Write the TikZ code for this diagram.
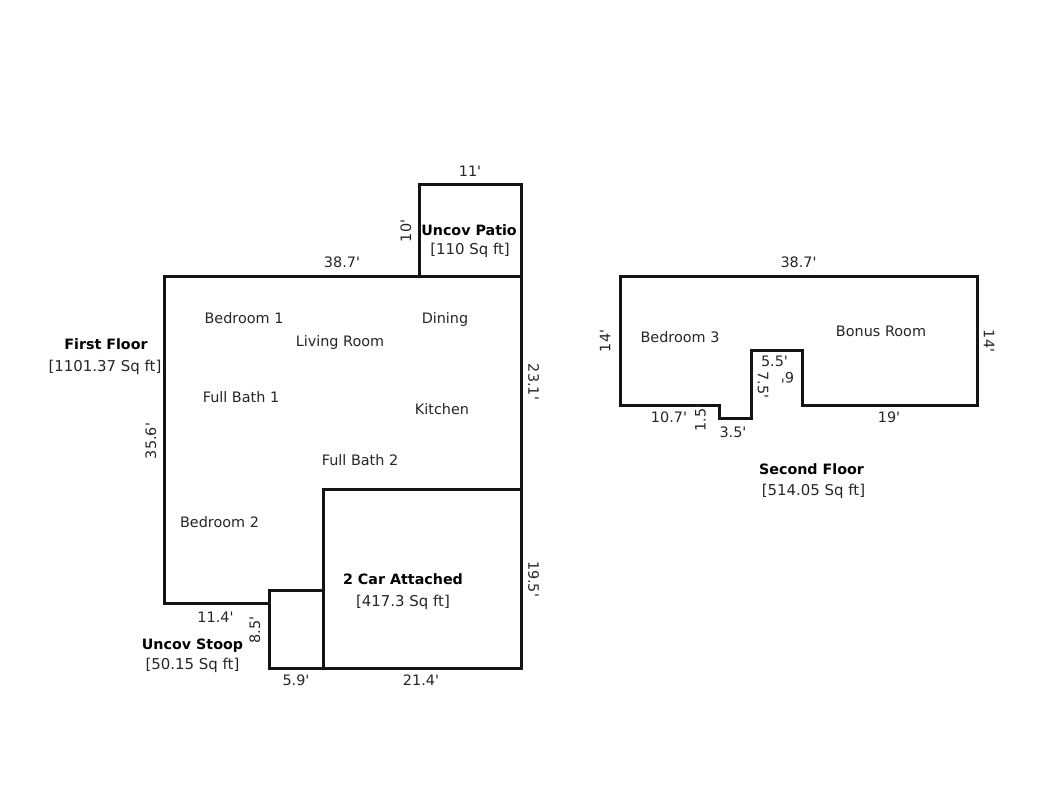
\documentclass[tikz,border=0pt]{standalone}
\usepackage{fontspec}
\setmainfont{DejaVu Sans}
\newcommand{\q}{\textquotesingle}
\tikzset{
 wall/.style={line width=2.25pt,draw=black!92,line join=miter,line cap=rect},
 lab/.style={font=\fontsize{10.8}{12}\selectfont,text=black!85,inner sep=0pt,anchor=center},
 area/.style={lab,font=\fontsize{11.2}{12}\selectfont},
 rlab/.style={lab,rotate=90},
 rrlab/.style={lab,rotate=-90},
 blab/.style={lab,text=black,font=\fontsize{10.7}{12}\selectfont\bfseries}
}
\begin{document}
\begin{tikzpicture}[x=0.75pt,y=-0.75pt]
\useasboundingbox (0,0) rectangle (1056,811);
\fill[white] (0,0) rectangle (1056,811);
\draw[wall] (164.5,276.5) -- (521.5,276.5) -- (521.5,668.5) -- (269.5,668.5) -- (269.5,603.5) -- (164.5,603.5) -- cycle;
\draw[wall] (269.5,603.5) -- (269.5,590.5) -- (323.5,590.5);
\draw[wall] (419.5,276.5) -- (419.5,184.5) -- (521.5,184.5) -- (521.5,276.5);
\draw[wall] (323.5,668.5) -- (323.5,489.5) -- (521.5,489.5);
\draw[wall] (620.5,276.5) -- (977.5,276.5) -- (977.5,405.5) -- (802.5,405.5) -- (802.5,350.5) -- (751.5,350.5) -- (751.5,418.5) -- (719.5,418.5) -- (719.5,405.5) -- (620.5,405.5) -- cycle;
\node[lab] (t1) at (470,171) {11\q};
\node[rlab] (t2) at (406,231) {10\q};
\node[blab] (t3) at (469,230) {Uncov Patio};
\node[area] (t4) at (470,250.5) {[110 Sq ft]};
\node[lab] (t5) at (342,262.5) {38.7\q};
\node[lab] (t6) at (798.5,262.5) {38.7\q};
\node[lab] (t7) at (244,318.5) {Bedroom 1};
\node[lab] (t8) at (445,319.5) {Dining};
\node[lab] (t9) at (340,342.5) {Living Room};
\node[blab] (t10) at (106,344.5) {First Floor};
\node[area] (t11) at (105,367.5) {[1101.37 Sq ft]};
\node[lab] (t12) at (241,397.5) {Full Bath 1};
\node[lab] (t13) at (442,409.5) {Kitchen};
\node[lab] (t14) at (360,460.5) {Full Bath 2};
\node[lab] (t15) at (219.5,522.5) {Bedroom 2};
\node[rlab] (t16) at (151,441) {35.6\q};
\node[rrlab] (t17) at (533.5,382) {23.1\q};
\node[rrlab] (t18) at (533.5,579) {19.5\q};
\node[blab] (t19) at (403,579.5) {2 Car Attached};
\node[area] (t20) at (403,602.5) {[417.3 Sq ft]};
\node[lab] (t21) at (215.5,617.5) {11.4\q};
\node[rlab] (t22) at (255,630) {8.5\q};
\node[blab] (t23) at (192.5,645.5) {Uncov Stoop};
\node[area] (t24) at (192.5,665.5) {[50.15 Sq ft]};
\node[lab] (t25) at (296,680.5) {5.9\q};
\node[lab] (t26) at (421,680.5) {21.4\q};
\node[rlab] (t27) at (605,341) {14\q};
\node[rrlab] (t28) at (989,341) {14\q};
\node[lab] (t29) at (680,337.5) {Bedroom 3};
\node[lab] (t30) at (881,331.5) {Bonus Room};
\node[lab] (t31) at (774.5,361.5) {5.5\q};
\node[rrlab] (t32) at (763,385) {7.5\q};
\node[lab,rotate=180] (t33) at (787.5,378) {6\q};
\node[lab] (t34) at (669,417.5) {10.7\q};
\node[rlab] (t35) at (700.5,418) {1.5\q};
\node[lab] (t36) at (733,432.5) {3.5\q};
\node[lab] (t37) at (889,417.5) {19\q};
\node[blab] (t38) at (811.5,469.5) {Second Floor};
\node[area] (t39) at (813.5,491.5) {[514.05 Sq ft]};
\end{tikzpicture}
\end{document}
